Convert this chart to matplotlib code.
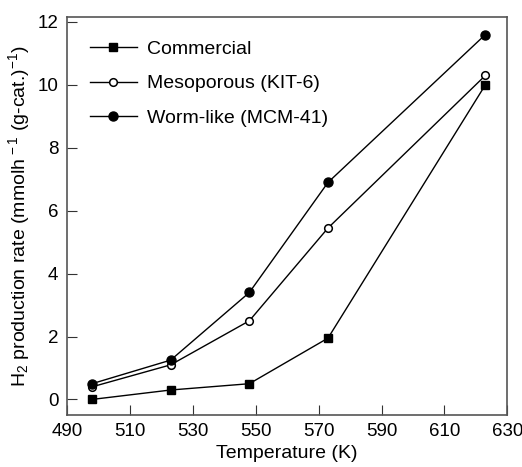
import matplotlib
matplotlib.use('Agg')
import matplotlib.pyplot as plt

plt.rcParams['font.family'] = ['Liberation Sans', 'DejaVu Sans']
plt.rcParams['mathtext.fontset'] = 'custom'
plt.rcParams['mathtext.rm'] = 'Liberation Sans'
plt.rcParams['mathtext.it'] = 'Liberation Sans:italic'

# Data
temperature = [498, 523, 548, 573, 623]
commercial = [0.0, 0.3, 0.5, 1.95, 10.0]
mesoporous = [0.4, 1.1, 2.5, 5.45, 10.3]
wormlike = [0.5, 1.25, 3.4, 6.9, 11.6]
x_ticks = [490, 510, 530, 550, 570, 590, 610, 630]
y_ticks = [0, 2, 4, 6, 8, 10, 12]

fig, ax = plt.subplots(figsize=(5.22, 4.67), dpi=100)
fig.subplots_adjust(left=0.128, right=0.972, top=0.963, bottom=0.111)

ax.plot(temperature, commercial, '-s', color='black', lw=1, ms=6, label='Commercial')
ax.plot(temperature, mesoporous, '-o', color='black', lw=1, ms=5.5, mfc='white', mew=1.1,
        label='Mesoporous (KIT-6)')
ax.plot(temperature, wormlike, '-o', color='black', lw=1, ms=6.5, label='Worm-like (MCM-41)')

ax.set_xlim(490, 630)
ax.set_ylim(-0.5, 12.15)
ax.set_xticks(x_ticks)
ax.set_yticks(y_ticks)
ax.tick_params(direction='in', length=7, width=0.8, labelsize=13.5, colors='#333333',
               labelcolor='black', pad=6)
for s in ax.spines.values():
    s.set_color('#555555')
    s.set_linewidth(1.2)

ax.set_xlabel('Temperature (K)', fontsize=14, labelpad=3)
ax.set_ylabel('H$_2$ production rate (mmolh$^{\\,-1}$ (g-cat.)$^{-1}$)', fontsize=14, labelpad=4)

ax.legend(loc='upper left', frameon=False, fontsize=14, handlelength=2.4,
          labelspacing=0.85, borderaxespad=0.8, handletextpad=0.5)

plt.savefig('out.png')
